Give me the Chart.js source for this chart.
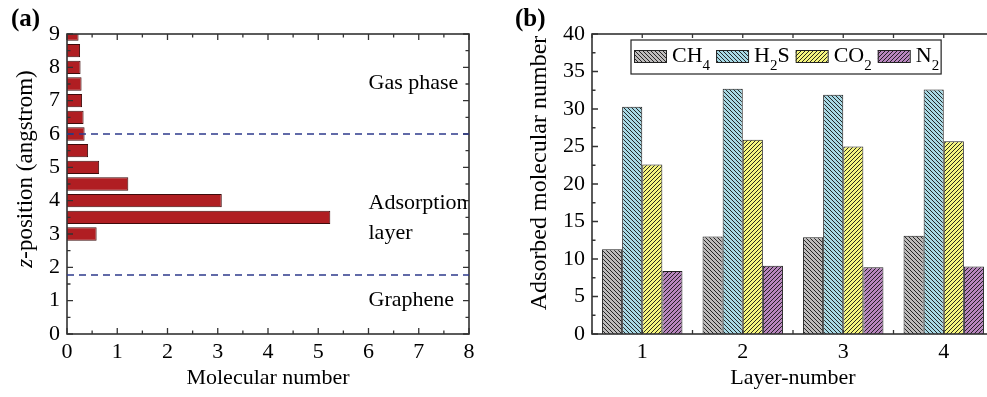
<!DOCTYPE html>
<html>
<head>
<meta charset="utf-8">
<script src="https://cdn.jsdelivr.net/npm/chart.js@4.4.1/dist/chart.umd.min.js"></script>
<style>
  html, body { margin: 0; padding: 0; background: #fff; overflow: hidden; }
  #wrap { position: relative; width: 987px; height: 397px; overflow: hidden; }
  canvas { position: absolute; top: 0; }
  #left { left: 0; }
  #right { left: 500px; }
  .tag { position: absolute; top: 3px; font: bold 25px 'Liberation Serif', serif; line-height: 30px; }
</style>
</head>
<body>
<div id="wrap">
  <canvas id="left" width="500" height="397"></canvas>
  <canvas id="right" width="520" height="397"></canvas>
  <div class="tag" style="left:11px">(a)</div>
  <div class="tag" style="left:515px">(b)</div>
</div>
<script>
// ─── panel (a): molecules along z ───
const zPos = [3.0, 3.5, 4.0, 4.5, 5.0, 5.5, 6.0, 6.5, 7.0, 7.5, 8.0, 8.5, 9.0];
const zCount = [0.59, 5.24, 3.08, 1.22, 0.64, 0.42, 0.35, 0.33, 0.30, 0.29, 0.27, 0.26, 0.23];
const zBounds = [6.0, 1.77];
const noteText = ['Gas phase', 'Adsorption', 'layer', 'Graphene'];
const noteX = [6.0, 6.0, 6.0, 6.0];
const noteZ = [7.53, 3.93, 3.03, 1.02];

// ─── panel (b): adsorbed molecules per layer ───
const layers = ['1', '2', '3', '4'];
const gasNames = ['CH4', 'H2S', 'CO2', 'N2'];
const ch4 = [11.3, 13.0, 12.9, 13.1];
const h2s = [30.3, 32.7, 31.9, 32.6];
const co2 = [22.6, 25.9, 25.0, 25.7];
const n2 = [8.4, 9.1, 8.9, 9.0];

const SERIF = "'Liberation Serif', 'Times New Roman', serif";
Chart.defaults.font.family = SERIF;
Chart.defaults.font.size = 22;
Chart.defaults.color = '#000';

// marks for inward ticks: [pixel, length]
function linearMarks(scale) {
    const out = [];
    const vals = scale.ticks.map(t => t.value);
    vals.forEach((v, i) => {
        out.push([scale.getPixelForValue(v), 6]);
        if (i < vals.length - 1) out.push([scale.getPixelForValue((v + vals[i + 1]) / 2), 3.5]);
    });
    return out;
}
function categoryMarks(scale) {
    const out = [];
    const n = scale.ticks.length;
    const half = (scale.getPixelForValue(1) - scale.getPixelForValue(0)) / 2;
    for (let i = 0; i < n; i++) {
        const p = scale.getPixelForValue(i);
        out.push([p - half, 4]);
        out.push([p, 4]);
    }
    out.push([scale.getPixelForValue(n - 1) + half, 4]);
    return out;
}

const frameTicks = {
    id: 'frameTicks',
    afterDatasetsDraw(chart) {
        const { ctx, chartArea: a, scales } = chart;
        const xm = scales.x.type === 'category' ? categoryMarks(scales.x) : linearMarks(scales.x);
        const ym = linearMarks(scales.y);
        ctx.save();
        ctx.strokeStyle = '#333';
        ctx.lineWidth = 1.3;
        ctx.beginPath();
        xm.forEach(([p, l]) => {
            ctx.moveTo(p, a.bottom); ctx.lineTo(p, a.bottom - l);
            ctx.moveTo(p, a.top); ctx.lineTo(p, a.top + l);
        });
        ym.forEach(([p, l]) => {
            ctx.moveTo(a.left, p); ctx.lineTo(a.left + l, p);
            ctx.moveTo(a.right, p); ctx.lineTo(a.right - l, p);
        });
        ctx.stroke();
        ctx.lineWidth = 1.6;
        ctx.strokeRect(a.left, a.top, a.right - a.left, a.bottom - a.top);
        ctx.restore();
    }
};

// rotated axis title made of [text, font] runs, centred on (cx, cy)
function vTitle(ctx, parts, cx, cy) {
    let w = 0;
    parts.forEach(([t, f]) => { ctx.font = f; w += ctx.measureText(t).width; });
    ctx.save();
    ctx.fillStyle = '#000';
    ctx.textBaseline = 'middle';
    ctx.translate(cx, cy);
    ctx.rotate(-Math.PI / 2);
    let x = -w / 2;
    parts.forEach(([t, f]) => { ctx.font = f; ctx.fillText(t, x, 0); x += ctx.measureText(t).width; });
    ctx.restore();
}

// dashed region borders, region notes and the y title with italic z
const zExtras = {
    id: 'zExtras',
    afterDatasetsDraw(chart) {
        const { ctx, chartArea: a, scales: { x, y } } = chart;
        ctx.save();
        ctx.strokeStyle = '#2e3a8c';
        ctx.lineWidth = 1.3;
        ctx.setLineDash([7, 5]);
        zBounds.forEach(z => {
            const p = y.getPixelForValue(z);
            ctx.beginPath(); ctx.moveTo(a.left, p); ctx.lineTo(a.right, p); ctx.stroke();
        });
        ctx.setLineDash([]);
        ctx.fillStyle = '#000';
        ctx.font = '22px ' + SERIF;
        ctx.textBaseline = 'middle';
        noteText.forEach((t, i) => ctx.fillText(t, x.getPixelForValue(noteX[i]), y.getPixelForValue(noteZ[i])));
        ctx.restore();
        vTitle(ctx, [['z', 'italic 23px ' + SERIF], ['-position (angstrom)', '23px ' + SERIF]], 26, 169);
    }
};

new Chart(document.getElementById('left'), {
    type: 'bar',
    data: {
        datasets: [{
            data: zPos.map((z, i) => ({ x: zCount[i], y: z })),
            backgroundColor: '#b01e22',
            borderColor: '#3d0b0b',
            borderWidth: 1,
            barPercentage: 1,
            categoryPercentage: 0.8,
            clip: 0
        }]
    },
    options: {
        responsive: false,
        animation: false,
        indexAxis: 'y',
        layout: { padding: { top: 34, right: 31, left: 0, bottom: 0 } },
        plugins: { legend: { display: false }, tooltip: { enabled: false } },
        scales: {
            x: {
                type: 'linear', min: 0, max: 8,
                ticks: { stepSize: 1, padding: 5 },
                grid: { display: false, drawTicks: false },
                border: { display: false },
                title: { display: true, text: 'Molecular number', padding: { top: 0, bottom: 6 } },
                afterFit: s => { s.height = 63; }
            },
            y: {
                type: 'linear', min: 0, max: 9, offset: false,
                ticks: { stepSize: 1, padding: 7 },
                grid: { display: false, drawTicks: false },
                border: { display: false },
                afterFit: s => { s.width = 67; }
            }
        }
    },
    plugins: [frameTicks, zExtras]
});

// ─── hatched fills ───
const rctx = document.getElementById('right').getContext('2d');
function hatch(bg, dir) {
    const s = 4;
    const c = document.createElement('canvas');
    c.width = s; c.height = s;
    const g = c.getContext('2d');
    g.fillStyle = bg; g.fillRect(0, 0, s, s);
    g.strokeStyle = 'rgba(20,20,20,0.9)';
    g.lineWidth = 1;
    g.beginPath();
    if (dir === '\\') {
        g.moveTo(-1, -1); g.lineTo(s + 1, s + 1);
        g.moveTo(-1, s - 1); g.lineTo(1, s + 1);
        g.moveTo(s - 1, -1); g.lineTo(s + 1, 1);
    } else {
        g.moveTo(-1, s + 1); g.lineTo(s + 1, -1);
        g.moveTo(-1, 1); g.lineTo(1, -1);
        g.moveTo(s - 1, s + 1); g.lineTo(s + 1, s - 1);
    }
    g.stroke();
    return rctx.createPattern(c, 'repeat');
}
const fills = [hatch('#bdbbbb', '\\'), hatch('#a8d9e5', '\\'), hatch('#f6f67e', '/'), hatch('#b886be', '/')];

// legend with subscripted digits
const hatchLegend = {
    id: 'hatchLegend',
    afterDraw(chart) {
        const { ctx } = chart;
        const big = '22px ' + SERIF, small = '15px ' + SERIF;
        const runs = s => s.split(/(\d+)/).filter(Boolean).map(t => [t, /\d/.test(t)]);
        const boxL = 131, boxT = 40, boxH = 34;
        let x = boxL + 3;
        const items = [];
        chart.data.datasets.forEach((ds, i) => {
            items.push({ sw: x, ds, i });
            x += 32 + 6;
            items[i].tx = x;
            runs(ds.label).forEach(([t, sub]) => {
                ctx.font = sub ? small : big;
                x += ctx.measureText(t).width;
            });
            x += 6;
        });
        ctx.save();
        ctx.fillStyle = '#fff';
        ctx.fillRect(boxL, boxT, x - 4 - boxL, boxH);
        ctx.strokeStyle = '#222';
        ctx.lineWidth = 1.2;
        ctx.strokeRect(boxL, boxT, x - 4 - boxL, boxH);
        items.forEach(({ sw, tx, ds }) => {
            ctx.fillStyle = ds.backgroundColor;
            ctx.fillRect(sw, 50, 32, 12);
            ctx.lineWidth = 1;
            ctx.strokeRect(sw + 0.5, 50.5, 32, 12);
            ctx.fillStyle = '#000';
            ctx.textBaseline = 'alphabetic';
            let px = tx;
            runs(ds.label).forEach(([t, sub]) => {
                ctx.font = sub ? small : big;
                ctx.fillText(t, px, sub ? 70 : 62);
                px += ctx.measureText(t).width;
            });
        });
        ctx.restore();
        vTitle(ctx, [['Adsorbed molecular number', '24px ' + SERIF]], 40, 173);
    }
};

const gasData = [ch4, h2s, co2, n2];
new Chart(rctx, {
    type: 'bar',
    data: {
        labels: layers,
        datasets: gasNames.map((g, i) => ({
            label: g,
            data: gasData[i],
            backgroundColor: fills[i],
            borderColor: '#1e1e1e',
            borderWidth: 1,
            barPercentage: 1,
            categoryPercentage: 0.8
        }))
    },
    options: {
        responsive: false,
        animation: false,
        layout: { padding: { top: 34, right: 26, left: 0, bottom: 0 } },
        plugins: { legend: { display: false }, tooltip: { enabled: false } },
        scales: {
            x: {
                ticks: { padding: 5 },
                grid: { display: false, drawTicks: false },
                border: { display: false },
                title: { display: true, text: 'Layer-number', padding: { top: 0, bottom: 6 } },
                afterFit: s => { s.height = 63; }
            },
            y: {
                min: 0, max: 40,
                ticks: { stepSize: 5, padding: 7 },
                grid: { display: false, drawTicks: false },
                border: { display: false },
                afterFit: s => { s.width = 92; }
            }
        }
    },
    plugins: [frameTicks, hatchLegend]
});
</script>
</body>
</html>
